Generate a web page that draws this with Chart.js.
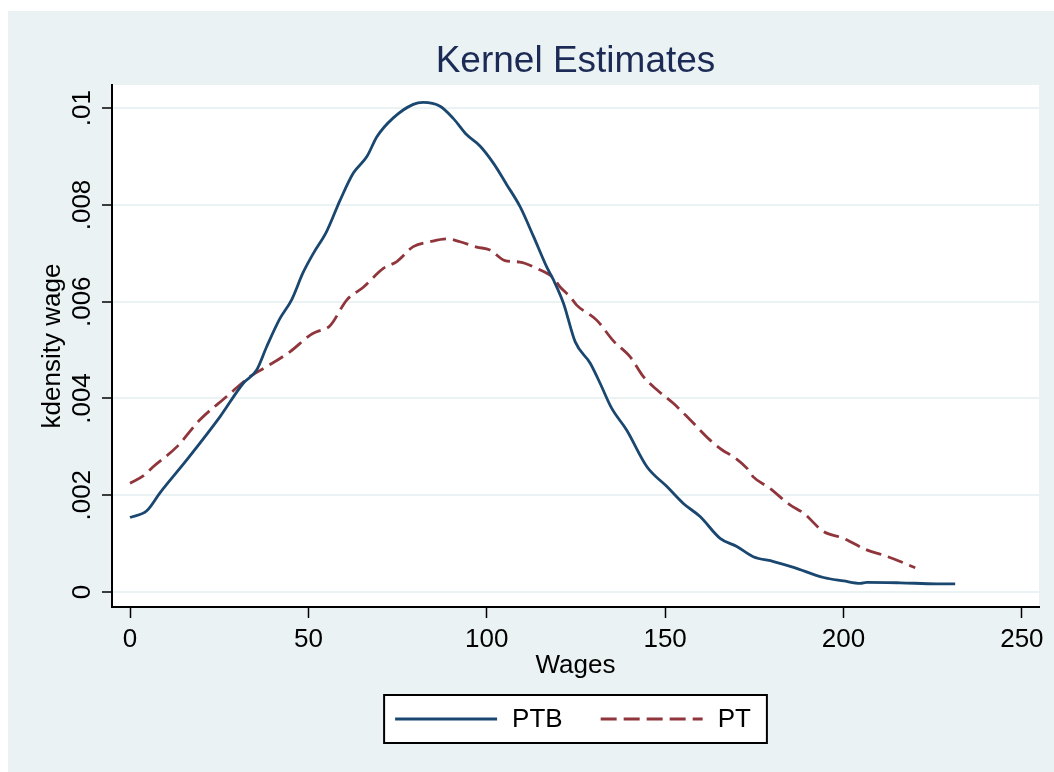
<!DOCTYPE html>
<html>
<head>
<meta charset="utf-8">
<title>Kernel Estimates</title>
<script src="https://cdn.jsdelivr.net/npm/chart.js@4.4.1/dist/chart.umd.min.js"></script>
<style>
  html, body { margin: 0; padding: 0; background: #ffffff; }
  #wrap { position: absolute; left: 8px; top: 11px; width: 1046px; height: 761px; background: #eaf2f3; }
</style>
</head>
<body>
<div id="wrap"><canvas id="kdensityChart" width="1046" height="761"></canvas></div>
<script>
// values
var ptbWage = [0, 4.7, 8.4, 15.9, 25.2, 31.8, 35.5, 38.3, 42, 45.3, 48.5, 51.4, 55.1, 58.9, 62.6, 66.4, 69.2, 73.8, 79.4, 82.2, 86.9, 90.6, 94.4, 98.1, 101.9, 105.6, 109.3, 113.1, 116.8, 118.7, 121.5, 124.8, 129, 131.8, 135, 139.2, 144.9, 150.5, 155.1, 159.8, 165.4, 170.1, 174.7, 180.4, 186, 194.4, 200, 204.7, 206.5, 215.9, 226.2, 231.3];
var ptbDensity = [.00154, .00168, .00205, .00273, .00362, .00432, .00459, .00507, .00565, .00604, .00660, .00700, .00745, .00810, .00866, .00900, .00941, .00980, .01008, .01012, .01004, .00979, .00945, .00922, .00886, .00842, .00797, .00735, .00672, .00645, .00597, .00517, .00473, .00431, .00380, .00335, .00259, .00218, .00183, .00156, .00111, .00094, .00073, .00063, .00051, .00030, .00023, .00018, .00020, .00019, .00017, .00017];

var ptWage = [0, 3.7, 6.5, 13.1, 19.6, 27.1, 33.6, 37.4, 44.9, 50.5, 52.3, 56, 60.8, 65.4, 71, 74.8, 79.4, 84.1, 88.8, 92.5, 97.2, 100.9, 105.1, 109.3, 114, 118.7, 120.5, 123.4, 125.2, 130.8, 135.5, 140.2, 143.9, 147.7, 152.3, 157, 162.6, 166.3, 169.1, 172.9, 174.7, 179.4, 185, 188.8, 194.4, 200, 206.5, 211.2, 215.9, 220.1];
var ptDensity = [.00225, .00240, .00259, .00300, .00356, .00404, .00445, .00462, .00497, .00531, .00538, .00550, .00604, .00630, .00669, .00683, .00714, .00724, .00730, .00724, .00713, .00707, .00685, .00682, .00669, .00649, .00631, .00610, .00593, .00562, .00519, .00486, .00445, .00418, .00390, .00356, .00314, .00292, .00280, .00256, .00238, .00214, .00180, .00163, .00125, .00111, .00087, .00076, .00063, .00050];

var xTicks = [0, 50, 100, 150, 200, 250];
var yTicks = [0, .002, .004, .006, .008, .01];
var yTickLabels = ["0", ".002", ".004", ".006", ".008", ".01"];

var FONT = '"Liberation Sans", Arial, sans-serif';

function toPoints(xs, ys) {
  return xs.map(function (x, i) { return { x: x, y: ys[i] }; });
}

// white plot region on the bluish-gray page
var plotBackground = {
  id: "plotBackground",
  beforeDraw: function (chart) {
    var a = chart.chartArea;
    var ctx = chart.ctx;
    ctx.save();
    ctx.fillStyle = "#ffffff";
    ctx.fillRect(a.left, a.top, a.right - a.left, a.bottom - a.top);
    ctx.restore();
  },
};

// title centred over the plot region, and a boxed legend under the axis
var titleAndLegend = {
  id: "titleAndLegend",
  afterDraw: function (chart) {
    var ctx = chart.ctx;
    var a = chart.chartArea;
    var cx = (a.left + a.right) / 2;
    ctx.save();
    ctx.font = "37px " + FONT;
    ctx.fillStyle = "#1c2b55";
    ctx.textAlign = "center";
    ctx.textBaseline = "alphabetic";
    ctx.fillText("Kernel Estimates", cx, 61);

    ctx.font = "26px " + FONT;
    var sample = 102, gapText = 15, gapItem = 38, padL = 11, padR = 16;
    var items = chart.data.datasets.map(function (ds) {
      return { ds: ds, w: ctx.measureText(ds.label).width };
    });
    var total = padL + padR;
    items.forEach(function (it, i) {
      total += sample + gapText + it.w + (i ? gapItem : 0);
    });
    var boxTop = 684, boxH = 48;
    var left = cx - total / 2;
    ctx.fillStyle = "#ffffff";
    ctx.fillRect(left, boxTop, total, boxH);
    ctx.strokeStyle = "#000000";
    ctx.lineWidth = 2;
    ctx.strokeRect(left, boxTop, total, boxH);

    var midY = boxTop + boxH / 2;
    var x = left + padL;
    items.forEach(function (it, i) {
      if (i) x += gapItem;
      ctx.beginPath();
      ctx.setLineDash(it.ds.borderDash || []);
      ctx.strokeStyle = it.ds.borderColor;
      ctx.lineWidth = it.ds.borderWidth;
      ctx.moveTo(x, midY);
      ctx.lineTo(x + sample, midY);
      ctx.stroke();
      ctx.setLineDash([]);
      x += sample + gapText;
      ctx.fillStyle = "#000000";
      ctx.textAlign = "left";
      ctx.textBaseline = "middle";
      ctx.fillText(it.ds.label, x, midY + 1);
      x += it.w;
    });
    ctx.restore();
  },
};

var ctx = document.getElementById("kdensityChart").getContext("2d");
var myChart = new Chart(ctx, {
  type: "line",
  data: {
    datasets: [
      {
        label: "PTB",
        data: toPoints(ptbWage, ptbDensity),
        borderColor: "#1a476f",
        borderWidth: 2.8,
        pointRadius: 0,
        fill: false,
        cubicInterpolationMode: "monotone",
      },
      {
        label: "PT",
        data: toPoints(ptWage, ptDensity),
        borderColor: "#90353b",
        borderWidth: 2.8,
        borderDash: [16, 7],
        pointRadius: 0,
        fill: false,
        cubicInterpolationMode: "monotone",
      },
    ],
  },
  options: {
    responsive: false,
    animation: false,
    events: [],
    layout: { padding: { top: 74, right: 15, bottom: 91, left: 0 } },
    plugins: {
      legend: { display: false },
      title: { display: false },
      tooltip: { enabled: false },
    },
    scales: {
      x: {
        type: "linear",
        min: -5.05,
        max: 254.8,
        afterBuildTicks: function (s) {
          s.ticks = xTicks.map(function (v) { return { value: v }; });
        },
        afterFit: function (s) {
          s.height = 74;
          s.paddingLeft = 0;
          s.paddingRight = 0;
        },
        grid: {
          drawOnChartArea: false,
          drawTicks: true,
          tickLength: 11,
          tickColor: "#000000",
          tickWidth: 1.5,
        },
        border: { color: "#000000", width: 2 },
        ticks: {
          color: "#000000",
          font: { family: FONT, size: 26 },
          padding: 6,
          maxRotation: 0,
          autoSkip: false,
        },
        title: {
          display: true,
          text: "Wages",
          color: "#000000",
          font: { family: FONT, size: 26 },
          padding: { top: 0, bottom: 0 },
        },
      },
      y: {
        type: "linear",
        min: -0.00031,
        max: 0.01048,
        afterBuildTicks: function (s) {
          s.ticks = yTicks.map(function (v) { return { value: v }; });
        },
        afterFit: function (s) {
          s.width = 104;
          s.paddingTop = 0;
          s.paddingBottom = 0;
        },
        grid: {
          color: "#eaf2f3",
          lineWidth: 2,
          drawTicks: true,
          tickLength: 10,
          tickColor: "#000000",
          tickWidth: 1.5,
        },
        border: { color: "#000000", width: 2 },
        ticks: {
          color: "#000000",
          font: { family: FONT, size: 26 },
          minRotation: 90,
          maxRotation: 90,
          crossAlign: "center",
          padding: -6,
          autoSkip: false,
          callback: function (value, index) {
            return yTickLabels[index];
          },
        },
        title: {
          display: true,
          text: "kdensity wage",
          color: "#000000",
          font: { family: FONT, size: 26 },
          padding: { top: 29, bottom: 0 },
        },
      },
    },
  },
  plugins: [plotBackground, titleAndLegend],
});
</script>
</body>
</html>
